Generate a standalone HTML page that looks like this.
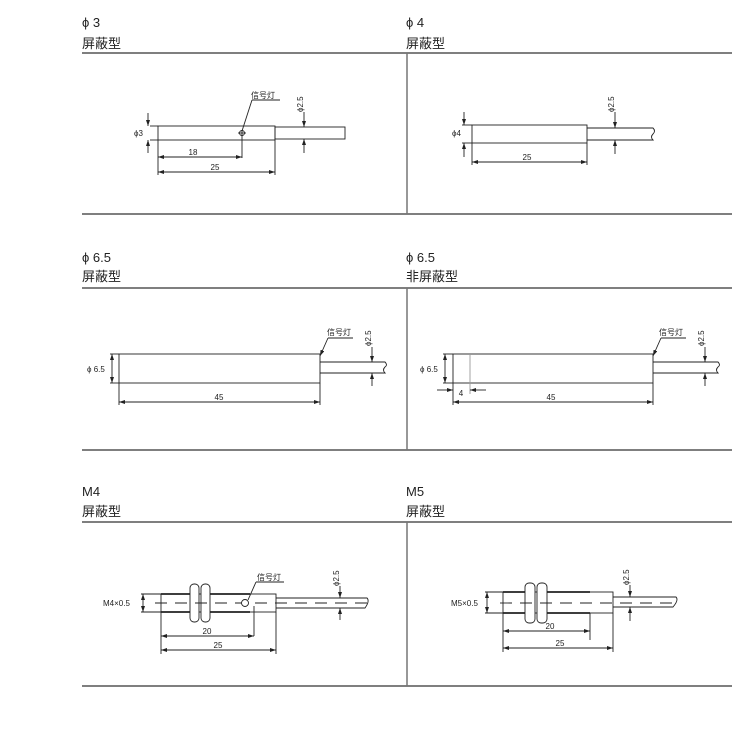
<!DOCTYPE html>
<html><head><meta charset="utf-8"><style>
html,body{margin:0;padding:0;background:#fff;}
svg{display:block;font-family:"Liberation Sans","Noto Sans CJK SC",sans-serif;}
.t{font-size:13px;fill:#222;}
.s{font-size:8px;fill:#222;}
</style></head><body>
<svg width="741" height="743" viewBox="0 0 741 743">
<defs>
<marker id="a" markerWidth="6" markerHeight="4" refX="6" refY="2" orient="auto-start-reverse" markerUnits="userSpaceOnUse"><path d="M0,0 L6,2 L0,4 z" fill="#222"/></marker>
</defs>
<g stroke="#333" stroke-width="1.2" fill="none">
<line x1="82" y1="53" x2="732" y2="53"/><line x1="82" y1="214" x2="732" y2="214"/>
<line x1="82" y1="288" x2="732" y2="288"/><line x1="82" y1="450" x2="732" y2="450"/>
<line x1="82" y1="522" x2="732" y2="522"/><line x1="82" y1="686" x2="732" y2="686"/>
</g>
<g stroke="#777" stroke-width="1.5"><line x1="407" y1="53" x2="407" y2="214"/><line x1="407" y1="288" x2="407" y2="450"/><line x1="407" y1="522" x2="407" y2="686"/></g>
<g class="t">
<text x="82" y="27" class="t">ϕ 3</text><text x="82" y="48" class="t">屏蔽型</text>
<text x="406" y="27" class="t">ϕ 4</text><text x="406" y="48" class="t">屏蔽型</text>
<text x="82" y="262" class="t">ϕ 6.5</text><text x="82" y="281" class="t">屏蔽型</text>
<text x="406" y="262" class="t">ϕ 6.5</text><text x="406" y="281" class="t">非屏蔽型</text>
<text x="82" y="496" class="t">M4</text><text x="82" y="516" class="t">屏蔽型</text>
<text x="406" y="496" class="t">M5</text><text x="406" y="516" class="t">屏蔽型</text>
</g>
<g stroke="#222" stroke-width="0.9" fill="none">
<rect x="158" y="126" width="117" height="14"/>
<rect x="275" y="127" width="70" height="12"/>
<line x1="150" y1="126" x2="158" y2="126"/><line x1="150" y1="140" x2="158" y2="140"/>
<line x1="148" y1="113" x2="148" y2="126" marker-end="url(#a)"/><line x1="148" y1="153" x2="148" y2="140" marker-end="url(#a)"/>
<circle cx="242" cy="133" r="2.5"/><line x1="238" y1="133" x2="246" y2="133"/>
<line x1="242" y1="130" x2="242" y2="158"/><line x1="242" y1="131" x2="252" y2="100"/><line x1="252" y1="100" x2="280" y2="100"/>
<line x1="158" y1="140" x2="158" y2="175"/><line x1="275" y1="140" x2="275" y2="175"/>
<line x1="158" y1="157" x2="242" y2="157" marker-start="url(#a)" marker-end="url(#a)"/>
<line x1="158" y1="172" x2="275" y2="172" marker-start="url(#a)" marker-end="url(#a)"/>
<line x1="304" y1="112" x2="304" y2="127" marker-end="url(#a)"/><line x1="304" y1="153" x2="304" y2="139" marker-end="url(#a)"/>
<rect x="472" y="125" width="115" height="18"/>
<path d="M587,128 H653 q3,3 0,6 q-3,3 0,6 H587"/>
<line x1="462" y1="125" x2="472" y2="125"/><line x1="462" y1="143" x2="472" y2="143"/>
<line x1="464" y1="112" x2="464" y2="125" marker-end="url(#a)"/><line x1="464" y1="157" x2="464" y2="143" marker-end="url(#a)"/>
<line x1="472" y1="143" x2="472" y2="165"/><line x1="587" y1="143" x2="587" y2="165"/>
<line x1="472" y1="162" x2="587" y2="162" marker-start="url(#a)" marker-end="url(#a)"/>
<line x1="615" y1="112" x2="615" y2="128" marker-end="url(#a)"/><line x1="615" y1="154" x2="615" y2="140" marker-end="url(#a)"/>
<rect x="119" y="354" width="201" height="29"/>
<path d="M320,362 H385 q3,3 0,5 q-3,3 0,6 H320"/>
<line x1="110" y1="354" x2="119" y2="354"/><line x1="110" y1="383" x2="119" y2="383"/>
<line x1="112" y1="354" x2="112" y2="383" marker-start="url(#a)" marker-end="url(#a)"/>
<line x1="119" y1="383" x2="119" y2="405"/><line x1="320" y1="383" x2="320" y2="405"/>
<line x1="119" y1="402" x2="320" y2="402" marker-start="url(#a)" marker-end="url(#a)"/>
<line x1="328" y1="338" x2="320" y2="356" marker-end="url(#a)"/><line x1="328" y1="338" x2="353" y2="338"/>
<line x1="372" y1="347" x2="372" y2="362" marker-end="url(#a)"/><line x1="372" y1="386" x2="372" y2="373" marker-end="url(#a)"/>
<rect x="453" y="354" width="200" height="29"/><line x1="470" y1="354" x2="470" y2="383" stroke="#999"/>
<path d="M653,362 H718 q3,3 0,5 q-3,3 0,6 H653"/>
<line x1="443" y1="354" x2="453" y2="354"/><line x1="443" y1="383" x2="453" y2="383"/>
<line x1="445" y1="354" x2="445" y2="383" marker-start="url(#a)" marker-end="url(#a)"/>
<line x1="453" y1="383" x2="453" y2="405"/><line x1="470" y1="383" x2="470" y2="394" stroke="#999"/><line x1="653" y1="383" x2="653" y2="405"/>
<line x1="437" y1="390" x2="453" y2="390" marker-end="url(#a)"/><line x1="486" y1="390" x2="470" y2="390" marker-end="url(#a)"/>
<line x1="453" y1="402" x2="653" y2="402" marker-start="url(#a)" marker-end="url(#a)"/>
<line x1="661" y1="338" x2="653" y2="356" marker-end="url(#a)"/><line x1="661" y1="338" x2="686" y2="338"/>
<line x1="705" y1="347" x2="705" y2="362" marker-end="url(#a)"/><line x1="705" y1="386" x2="705" y2="373" marker-end="url(#a)"/>
<rect x="161" y="594" width="115" height="18"/>
<line x1="161" y1="594" x2="190" y2="594" stroke-width="1.8"/><line x1="161" y1="612" x2="190" y2="612" stroke-width="1.8"/>
<line x1="210" y1="594" x2="250" y2="594" stroke-width="1.8"/><line x1="210" y1="612" x2="250" y2="612" stroke-width="1.8"/>
<rect x="190" y="584" width="9" height="38" rx="4" fill="#fff"/><rect x="201" y="584" width="9" height="38" rx="4" fill="#fff"/>
<path d="M276,598 H367 q3,3 -2,10 H276"/>
<line x1="155" y1="603" x2="372" y2="603" stroke-dasharray="12,8"/>
<circle cx="245" cy="603" r="3.5" fill="#fff"/><line x1="248" y1="600" x2="256" y2="582"/><line x1="256" y1="582" x2="284" y2="582"/>
<line x1="141" y1="594" x2="161" y2="594"/><line x1="141" y1="612" x2="161" y2="612"/>
<line x1="143" y1="594" x2="143" y2="612" marker-start="url(#a)" marker-end="url(#a)"/>
<line x1="161" y1="612" x2="161" y2="654"/><line x1="254" y1="606" x2="254" y2="636"/><line x1="276" y1="612" x2="276" y2="654"/>
<line x1="161" y1="636" x2="254" y2="636" marker-start="url(#a)" marker-end="url(#a)"/>
<line x1="161" y1="650" x2="276" y2="650" marker-start="url(#a)" marker-end="url(#a)"/>
<line x1="340" y1="586" x2="340" y2="598" marker-end="url(#a)"/><line x1="340" y1="620" x2="340" y2="608" marker-end="url(#a)"/>
<rect x="503" y="592" width="110" height="21"/>
<line x1="503" y1="592" x2="525" y2="592" stroke-width="1.8"/><line x1="503" y1="613" x2="525" y2="613" stroke-width="1.8"/>
<line x1="546" y1="592" x2="590" y2="592" stroke-width="1.8"/><line x1="546" y1="613" x2="590" y2="613" stroke-width="1.8"/>
<rect x="525" y="583" width="10" height="40" rx="4" fill="#fff"/><rect x="537" y="583" width="10" height="40" rx="4" fill="#fff"/>
<path d="M613,597 H676 q3,3 -3,10 H613"/>
<line x1="500" y1="603" x2="680" y2="603" stroke-dasharray="12,8"/>
<line x1="485" y1="592" x2="503" y2="592"/><line x1="485" y1="613" x2="503" y2="613"/>
<line x1="487" y1="592" x2="487" y2="613" marker-start="url(#a)" marker-end="url(#a)"/>
<line x1="503" y1="613" x2="503" y2="652"/><line x1="590" y1="613" x2="590" y2="640"/><line x1="613" y1="613" x2="613" y2="652"/>
<line x1="503" y1="631" x2="590" y2="631" marker-start="url(#a)" marker-end="url(#a)"/>
<line x1="503" y1="648" x2="613" y2="648" marker-start="url(#a)" marker-end="url(#a)"/>
<line x1="630" y1="585" x2="630" y2="597" marker-end="url(#a)"/><line x1="630" y1="621" x2="630" y2="607" marker-end="url(#a)"/>
</g>
<g class="s">
<text x="134" y="136">ϕ3</text><text x="193" y="155" text-anchor="middle">18</text><text x="215" y="170" text-anchor="middle">25</text>
<text x="251" y="98">信号灯</text>
<text transform="translate(303,112) rotate(-90)">ϕ2.5</text>
<text x="452" y="136">ϕ4</text><text x="527" y="160" text-anchor="middle">25</text>
<text transform="translate(614,112) rotate(-90)">ϕ2.5</text>
<text x="87" y="372">ϕ 6.5</text><text x="219" y="400" text-anchor="middle">45</text>
<text x="327" y="335">信号灯</text><text transform="translate(371,346) rotate(-90)">ϕ2.5</text>
<text x="420" y="372">ϕ 6.5</text><text x="461" y="396" text-anchor="middle">4</text><text x="551" y="400" text-anchor="middle">45</text>
<text x="659" y="335">信号灯</text><text transform="translate(704,346) rotate(-90)">ϕ2.5</text>
<text x="103" y="606">M4×0.5</text><text x="207" y="634" text-anchor="middle">20</text><text x="218" y="648" text-anchor="middle">25</text>
<text x="257" y="580">信号灯</text><text transform="translate(339,586) rotate(-90)">ϕ2.5</text>
<text x="451" y="606">M5×0.5</text><text x="550" y="629" text-anchor="middle">20</text><text x="560" y="646" text-anchor="middle">25</text>
<text transform="translate(629,585) rotate(-90)">ϕ2.5</text>
</g>
</svg>
</body></html>
